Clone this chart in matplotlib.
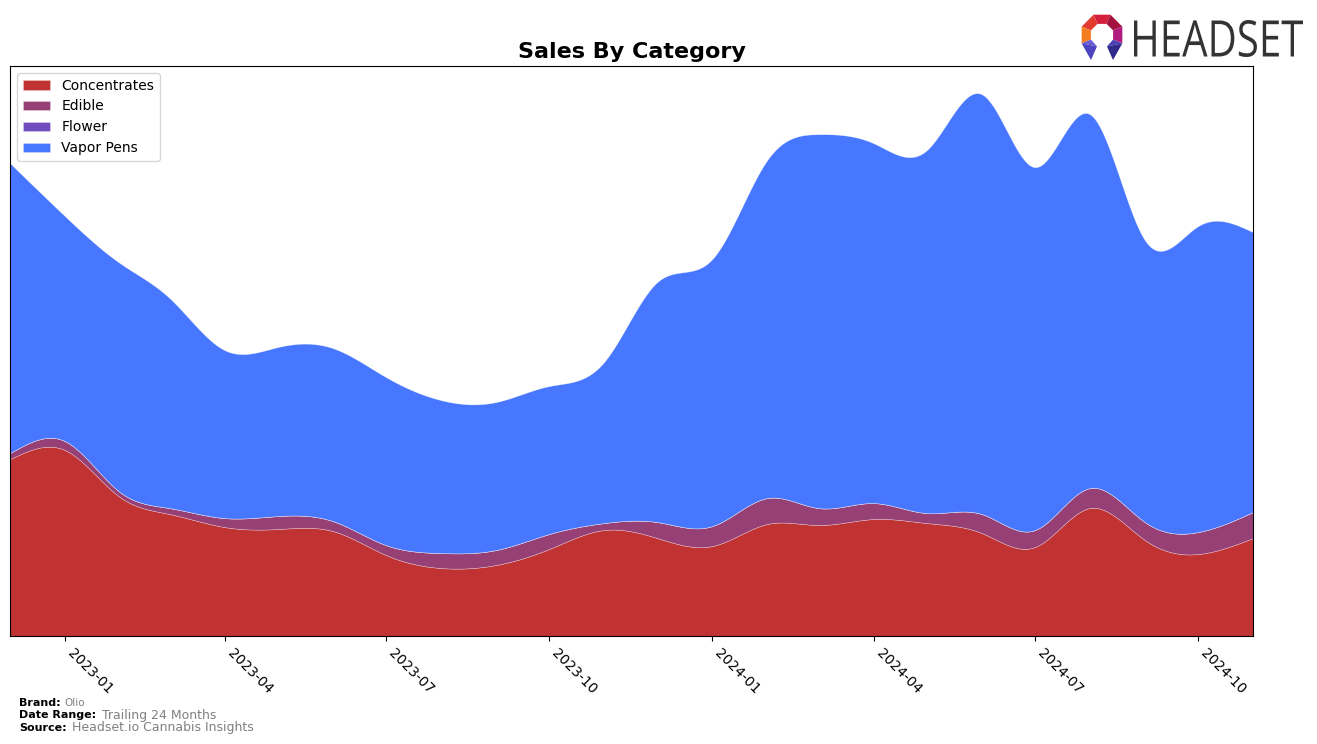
import matplotlib
matplotlib.use("Agg")
import matplotlib.pyplot as plt
import matplotlib.dates as mdates
from matplotlib.patches import Polygon, PathPatch
from matplotlib.textpath import TextPath
from matplotlib.font_manager import FontProperties
from matplotlib.transforms import Affine2D
import numpy as np
import pandas as pd

# monthly sales by category (arbitrary units)
months = pd.date_range("2022-12-01", periods=24, freq="MS")
concentrates = [177, 186, 139, 122, 109, 107, 105, 81, 68, 71, 87, 106,
                98, 90, 112, 111, 117, 113, 103, 89, 128, 96, 82, 98]
edible = [6, 9, 5, 6, 9, 13, 10, 10, 15, 15, 15, 7,
          16, 20, 26, 17, 16, 10, 19, 17, 20, 18, 22, 26]
flower = [0] * 24
vapor_pens = [290, 225, 229, 210, 168, 169, 173, 168, 153, 148, 148, 161,
              240, 267, 338, 374, 360, 363, 420, 363, 374, 282, 306, 280]

categories = ["Concentrates", "Edible", "Flower", "Vapor Pens"]
colors = ["#c13333", "#974076", "#704cbe", "#4877ff"]


def spline(x, y, xs):
    # natural cubic spline, just for drawing the smooth outline
    x = np.asarray(x, float)
    y = np.asarray(y, float)
    n = len(x)
    h = np.diff(x)
    A = np.zeros((n, n))
    b = np.zeros(n)
    A[0, 0] = 1
    A[-1, -1] = 1
    for i in range(1, n - 1):
        A[i, i - 1] = h[i - 1]
        A[i, i] = 2 * (h[i - 1] + h[i])
        A[i, i + 1] = h[i]
        b[i] = 3 * ((y[i + 1] - y[i]) / h[i] - (y[i] - y[i - 1]) / h[i - 1])
    c = np.linalg.solve(A, b)
    idx = np.clip(np.searchsorted(x, xs) - 1, 0, n - 2)
    dx = xs - x[idx]
    bb = (y[idx + 1] - y[idx]) / h[idx] - h[idx] * (2 * c[idx] + c[idx + 1]) / 3
    d = (c[idx + 1] - c[idx]) / (3 * h[idx])
    return y[idx] + bb * dx + c[idx] * dx ** 2 + d * dx ** 3


xnum = mdates.date2num(months)
xs = np.linspace(xnum[0], xnum[-1], 800)
layers = [np.clip(spline(xnum, s, xs), 0, None)
          for s in (concentrates, edible, flower, vapor_pens)]

fig = plt.figure(figsize=(13.17, 7.44), dpi=100)
ax = fig.add_axes([10 / 1317, 108 / 744, 1243 / 1317, 570 / 744])

ax.stackplot(xs, *layers, labels=categories, colors=colors,
             edgecolor=(1, 1, 1, 0.45), linewidth=0.4)

ax.set_xlim(xnum[0], xnum[-1])
total = np.sum(layers, axis=0)
ax.set_ylim(0, total.max() * 1.05)
ax.set_yticks([])
ax.xaxis.set_major_locator(mdates.MonthLocator(bymonth=[1, 4, 7, 10]))
ax.xaxis.set_major_formatter(mdates.DateFormatter("%Y-%m"))
plt.setp(ax.get_xticklabels(), rotation=-45, ha="left", fontsize=10)

ax.set_title("Sales By Category", fontsize=16, fontweight="bold", pad=6)
ax.legend(loc="upper left", fontsize=10)

# footer
fig.text(19 / 1317, 1 - 703 / 744, "Brand:", fontsize=8, fontweight="bold", va="center")
fig.text(64 / 1317, 1 - 703 / 744, "Olio", fontsize=7.5, color="gray", va="center")
fig.text(19 / 1317, 1 - 715 / 744, "Date Range:", fontsize=8, fontweight="bold", va="center")
fig.text(102 / 1317, 1 - 715 / 744, "Trailing 24 Months", fontsize=9, color="gray", va="center")
fig.text(19 / 1317, 1 - 728 / 744, "Source:", fontsize=8, fontweight="bold", va="center")
fig.text(72 / 1317, 1 - 728 / 744, "Headset.io Cannabis Insights", fontsize=9, color="gray", va="center")

# logo, drawn in pixel coordinates
lax = fig.add_axes([1070 / 1317, 1 - 66 / 744, 247 / 1317, 62 / 744])
lax.set_xlim(1070, 1317)
lax.set_ylim(66, 4)
lax.axis("off")

cx, cy, r_out, r_in = 1102, 35, 22, 12
segs = [(67.5, 112.5, "#d4203c"), (112.5, 157.5, "#e23a2e"),
        (157.5, 202.5, "#f47d20"), (22.5, 67.5, "#a3123f"),
        (-22.5, 22.5, "#b21c80")]
for a0, a1, col in segs:
    t0, t1 = np.radians(a0), np.radians(a1)
    pts = [(cx + r_out * np.cos(t0), cy - r_out * np.sin(t0)),
           (cx + r_out * np.cos(t1), cy - r_out * np.sin(t1)),
           (cx + r_in * np.cos(t1), cy - r_in * np.sin(t1)),
           (cx + r_in * np.cos(t0), cy - r_in * np.sin(t0))]
    lax.add_patch(Polygon(pts, closed=True, color=col, lw=0))
# the two feet under the ring
for side in (-1, 1):
    ox = cx + side * r_out * np.cos(np.radians(22.5))
    ix = cx + side * r_in * np.cos(np.radians(22.5))
    top = cy + r_out * np.sin(np.radians(22.5))
    itop = cy + r_in * np.sin(np.radians(22.5))
    upper = [(ox, top), (ix, itop), (cx + side * 5, top + 3)]
    lower = [(ox, top), (cx + side * 5, top + 3), (cx + side * 11, cy + 25)]
    lax.add_patch(Polygon(upper, closed=True, lw=0,
                          color="#6a5cd6" if side < 0 else "#4a3fb5"))
    lax.add_patch(Polygon(lower, closed=True, lw=0,
                          color="#4c44c0" if side < 0 else "#2f2a8c"))

tp = TextPath((0, 0), "HEADSET", size=1, prop=FontProperties(family="Open Sans"))
ext = tp.get_extents()
sx = (1303 - 1134) / ext.width
sy = (57 - 20) / ext.height
tr = Affine2D().translate(-ext.x0, -ext.y0).scale(sx, -sy).translate(1134, 57)
lax.add_patch(PathPatch(tr.transform_path(tp), color="#333333", lw=0))

fig.savefig("out.png", dpi=100)
